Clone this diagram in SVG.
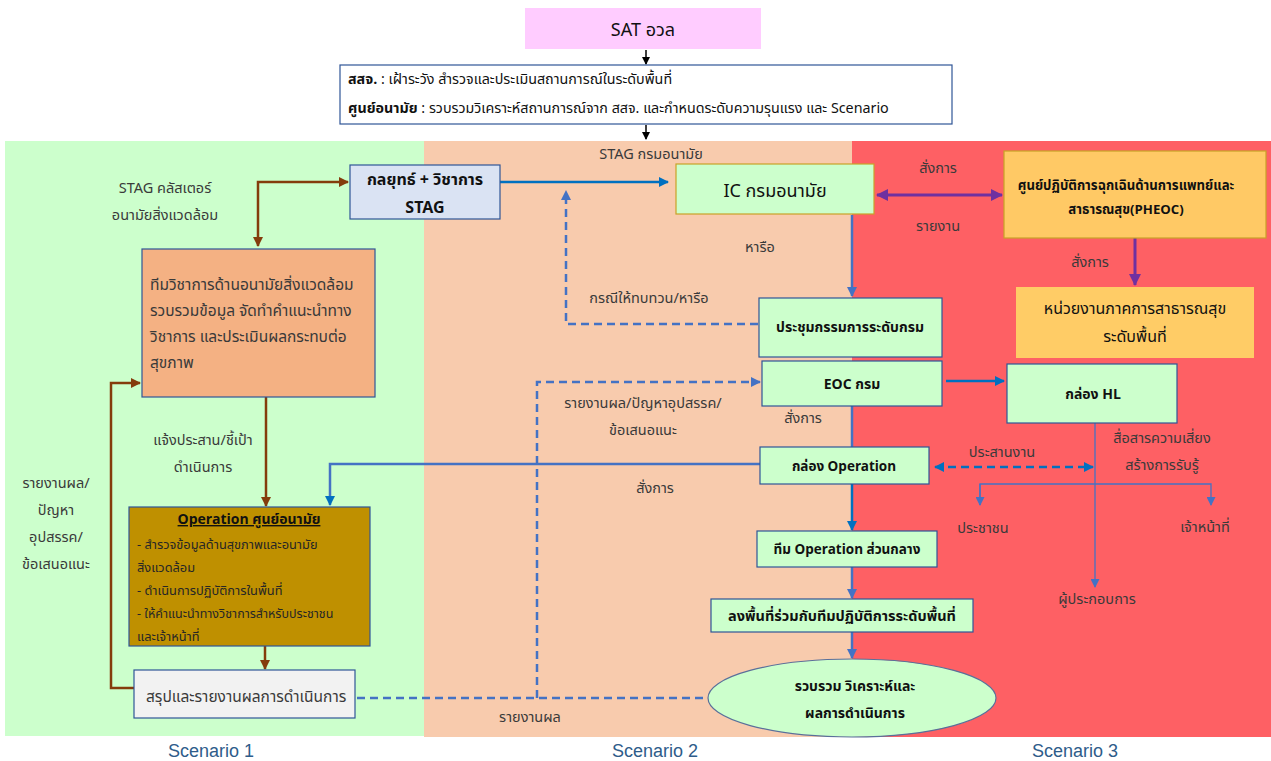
<svg xmlns="http://www.w3.org/2000/svg" width="1271" height="761" viewBox="0 0 1271 761">
<style>
text{font-family:"Noto Sans Thai","Noto Sans","DejaVu Sans",sans-serif;fill:#3a3a3a;font-size:14.5px}
.c{text-anchor:middle}
.b{fill:#111}
.bd{font-weight:bold;fill:#111}
.box{stroke:#2f5597;stroke-width:1.2}
.g{fill:#ccffcc}
.br{fill:none;stroke:#843c0c;stroke-width:2.5}
.bl{fill:none;stroke:#0070c0;stroke-width:2.5}
.bl2{fill:none;stroke:#4472c4;stroke-width:2.5}
.ds{fill:none;stroke:#4472c4;stroke-width:2.5;stroke-dasharray:8 5}
.th{fill:none;stroke:#4472c4;stroke-width:1.3}
.pu{fill:none;stroke:#7030a0;stroke-width:3}
.sc{font-family:"Liberation Sans",Arial,sans-serif;fill:#2e5c8a;font-size:18px;text-anchor:middle}
</style>
<defs>
<marker id="ak" markerWidth="8" markerHeight="8" refX="7" refY="4" orient="auto" markerUnits="userSpaceOnUse"><path d="M0,0 L8,4 L0,8 Z" fill="#000"/></marker>
<marker id="abr" markerWidth="10" markerHeight="10" refX="9" refY="5" orient="auto-start-reverse" markerUnits="userSpaceOnUse"><path d="M0,0 L10,5 L0,10 Z" fill="#843c0c"/></marker>
<marker id="abl" markerWidth="10" markerHeight="10" refX="9" refY="5" orient="auto-start-reverse" markerUnits="userSpaceOnUse"><path d="M0,0 L10,5 L0,10 Z" fill="#0070c0"/></marker>
<marker id="ab2" markerWidth="10" markerHeight="10" refX="9" refY="5" orient="auto-start-reverse" markerUnits="userSpaceOnUse"><path d="M0,0 L10,5 L0,10 Z" fill="#4472c4"/></marker>
<marker id="at" markerWidth="9" markerHeight="9" refX="8" refY="4.5" orient="auto" markerUnits="userSpaceOnUse"><path d="M0,0 L9,4.5 L0,9 Z" fill="#4472c4"/></marker>
<marker id="apu" markerWidth="12" markerHeight="12" refX="11" refY="6" orient="auto-start-reverse" markerUnits="userSpaceOnUse"><path d="M0,0 L12,6 L0,12 Z" fill="#7030a0"/></marker>
</defs>
<rect width="1271" height="761" fill="#fff"/>
<g id="panels">
<rect x="5" y="141" width="420" height="595" fill="#ccffcc"/>
<rect x="424" y="141" width="429" height="596" fill="#f8cbad"/>
<rect x="852" y="141" width="419" height="596" fill="#fe6064"/>
<text class="sc" x="211" y="757">Scenario 1</text>
<text class="sc" x="655" y="757">Scenario 2</text>
<text class="sc" x="1075" y="757">Scenario 3</text>
</g>
<g id="connectors">
<path d="M646,50 V64" stroke="#000" stroke-width="1.5" marker-end="url(#ak)"/>
<path d="M646,125 V139" stroke="#000" stroke-width="1.5" marker-end="url(#ak)"/>
<path class="br" d="M258,246 V182 H348" marker-start="url(#abr)" marker-end="url(#abr)"/>
<path class="br" d="M266,397 V506" marker-end="url(#abr)"/>
<path class="br" d="M265,646 V669" marker-end="url(#abr)"/>
<path class="br" d="M134,688 H111 V383 H140" marker-end="url(#abr)"/>
<path class="bl" d="M500,182 H668" marker-end="url(#abl)"/>
<path class="bl2" d="M852,215 V296" marker-end="url(#ab2)"/>
<path class="ds" d="M758,324 H566 V191" marker-end="url(#ab2)"/>
<path class="ds" d="M357,698 H708"/>
<path class="ds" d="M537,698 V382 H760" marker-end="url(#ab2)"/>
<path class="bl2" d="M852,406 V447"/>
<path class="bl2" d="M760,464 H330 V505" marker-end="url(#abl)"/>
<path class="bl" d="M852,484 V530" marker-end="url(#abl)"/>
<path class="bl2" d="M852,567 V598" marker-end="url(#ab2)"/>
<path class="bl2" d="M852,632 V658" marker-end="url(#ab2)"/>
<path class="pu" d="M877,195 H1002" marker-start="url(#apu)" marker-end="url(#apu)"/>
<path class="pu" d="M1135,238 V285" marker-end="url(#apu)"/>
<path class="bl" d="M946,381 H1004" marker-end="url(#abl)"/>
<path class="th" d="M1095,423 V587" marker-end="url(#at)"/>
<path class="ds" d="M935,467 H1093" style="stroke:#0070c0" marker-start="url(#abl)" marker-end="url(#abl)"/>
<path class="th" d="M980,505 V484 H1211 V505" marker-end="url(#at)"/>
<path class="th" d="M980,484 V505" marker-end="url(#at)"/>
<text class="c" x="165" y="193">STAG คลัสเตอร์</text>
<text class="c" x="165" y="220">อนามัยสิ่งแวดล้อม</text>
<text class="c" x="203" y="445">แจ้งประสาน/ชี้เป้า</text>
<text class="c" x="203" y="472">ดำเนินการ</text>
<text class="c" x="56" y="488">รายงานผล/</text>
<text class="c" x="56" y="515">ปัญหา</text>
<text class="c" x="56" y="542">อุปสรรค/</text>
<text class="c" x="56" y="569">ข้อเสนอแนะ</text>
<text class="c" x="651" y="159">STAG กรมอนามัย</text>
<text class="c" x="760" y="252">หารือ</text>
<text class="c" x="649" y="303">กรณีให้ทบทวน/หารือ</text>
<text class="c" x="643" y="408">รายงานผล/ปัญหาอุปสรรค/</text>
<text class="c" x="643" y="435">ข้อเสนอแนะ</text>
<text class="c" x="803" y="423">สั่งการ</text>
<text class="c" x="655" y="493">สั่งการ</text>
<text class="c" x="530" y="722">รายงานผล</text>
<text class="c" x="938" y="173">สั่งการ</text>
<text class="c" x="938" y="231">รายงาน</text>
<text class="c" x="1090" y="267">สั่งการ</text>
<text class="c" x="1002" y="457">ประสานงาน</text>
<text class="c" x="1162" y="443">สื่อสารความเสี่ยง</text>
<text class="c" x="1162" y="470">สร้างการรับรู้</text>
<text class="c" x="983" y="533">ประชาชน</text>
<text class="c" x="1205" y="532">เจ้าหน้าที่</text>
<text class="c" x="1097" y="604">ผู้ประกอบการ</text>
</g>
<g id="sat">
<rect x="525" y="8" width="236" height="41" fill="#ffccff"/>
<text class="c b" x="643" y="36" style="font-size:18px">SAT อวล</text>
</g>
<g id="assess">
<rect class="box" x="340" y="65" width="612" height="59" fill="#fff"/>
<text class="b" x="348" y="84" style="font-size:14.3px"><tspan font-weight="bold">สสจ.</tspan> : เฝ้าระวัง สำรวจและประเมินสถานการณ์ในระดับพื้นที่</text>
<text class="b" x="348" y="113" style="font-size:14.3px"><tspan font-weight="bold">ศูนย์อนามัย</tspan> : รวบรวมวิเคราะห์สถานการณ์จาก สสจ. และกำหนดระดับความรุนแรง และ Scenario</text>
</g>
<g id="stag">
<rect class="box" x="350" y="165" width="150" height="54" fill="#dae3f3"/>
<text class="c bd" x="425" y="185" style="font-size:16px">กลยุทธ์ + วิชาการ</text>
<text class="c bd" x="425" y="213" style="font-size:16px">STAG</text>
</g>
<g id="envteam">
<rect class="box" x="142" y="249" width="233" height="148" fill="#f4b183"/>
<text x="150" y="290" style="font-size:15.5px">ทีมวิชาการด้านอนามัยสิ่งแวดล้อม</text>
<text x="150" y="316" style="font-size:15.5px">รวบรวมข้อมูล จัดทำคำแนะนำทาง</text>
<text x="150" y="342" style="font-size:15.5px">วิชาการ และประเมินผลกระทบต่อ</text>
<text x="150" y="368" style="font-size:15.5px">สุขภาพ</text>
</g>
<g id="opcenter">
<rect class="box" x="129" y="507" width="241" height="139" fill="#bf9000"/>
<text class="c bd" x="249" y="524" style="font-size:14px;text-decoration:underline">Operation ศูนย์อนามัย</text>
<text x="137" y="549" style="font-size:12.8px;fill:#262626">- สำรวจข้อมูลด้านสุขภาพและอนามัย</text>
<text x="137" y="572" style="font-size:12.8px;fill:#262626">สิ่งแวดล้อม</text>
<text x="137" y="595" style="font-size:12.8px;fill:#262626">- ดำเนินการปฏิบัติการในพื้นที่</text>
<text x="137" y="618" style="font-size:12.5px;fill:#262626">- ให้คำแนะนำทางวิชาการสำหรับประชาชน</text>
<text x="137" y="641" style="font-size:12.8px;fill:#262626">และเจ้าหน้าที่</text>
</g>
<g id="summary">
<rect class="box" x="134" y="670" width="221" height="48" fill="#f2f2f2"/>
<text x="146" y="702" style="font-size:15.5px">สรุปและรายงานผลการดำเนินการ</text>
</g>
<g id="ic">
<rect x="676" y="164" width="198" height="50" fill="#ccffcc" stroke="#c9a227" stroke-width="1.2"/>
<text class="c b" x="775" y="197" style="font-size:18px">IC กรมอนามัย</text>
</g>
<g id="meeting">
<rect class="box g" x="759" y="298" width="183" height="59"/>
<text class="c bd" x="850" y="332" style="font-size:14px">ประชุมกรรมการระดับกรม</text>
</g>
<g id="eoc">
<rect class="box g" x="762" y="361" width="180" height="45"/>
<text class="c bd" x="852" y="389" style="font-size:14px">EOC กรม</text>
</g>
<g id="opbox">
<rect class="box g" x="760" y="447" width="169" height="37"/>
<text class="c bd" x="844" y="471" style="font-size:13.5px">กล่อง Operation</text>
</g>
<g id="opteam">
<rect class="box g" x="757" y="531" width="180" height="36"/>
<text class="c bd" x="847" y="554" style="font-size:13.5px">ทีม Operation ส่วนกลาง</text>
</g>
<g id="field">
<rect class="box g" x="711" y="599" width="262" height="33"/>
<text class="c bd" x="842" y="621" style="font-size:14.5px">ลงพื้นที่ร่วมกับทีมปฏิบัติการระดับพื้นที่</text>
</g>
<g id="analyze">
<ellipse cx="852" cy="698" rx="144" ry="39" fill="#ccffcc" stroke="#5a6f9a" stroke-width="1.2"/>
<text class="c bd" x="855" y="691" style="font-size:14px">รวบรวม วิเคราะห์และ</text>
<text class="c bd" x="855" y="718" style="font-size:14px">ผลการดำเนินการ</text>
</g>
<g id="pheoc">
<rect x="1004" y="151" width="262" height="87" fill="#ffc965" stroke="#c9a227" stroke-width="1.2"/>
<text class="c bd" x="1126" y="190" style="font-size:13.2px">ศูนย์ปฏิบัติการฉุกเฉินด้านการแพทย์และ</text>
<text class="c bd" x="1126" y="214" style="font-size:13.2px">สาธารณสุข(PHEOC)</text>
</g>
<g id="local">
<rect x="1016" y="287" width="238" height="71" fill="#ffcc66"/>
<text class="c b" x="1135" y="314" style="font-size:16px">หน่วยงานภาคการสาธารณสุข</text>
<text class="c b" x="1135" y="342" style="font-size:16px">ระดับพื้นที่</text>
</g>
<g id="hl">
<rect class="box g" x="1007" y="364" width="170" height="59"/>
<text class="c bd" x="1093" y="399" style="font-size:14px">กล่อง HL</text>
</g>
</svg>
